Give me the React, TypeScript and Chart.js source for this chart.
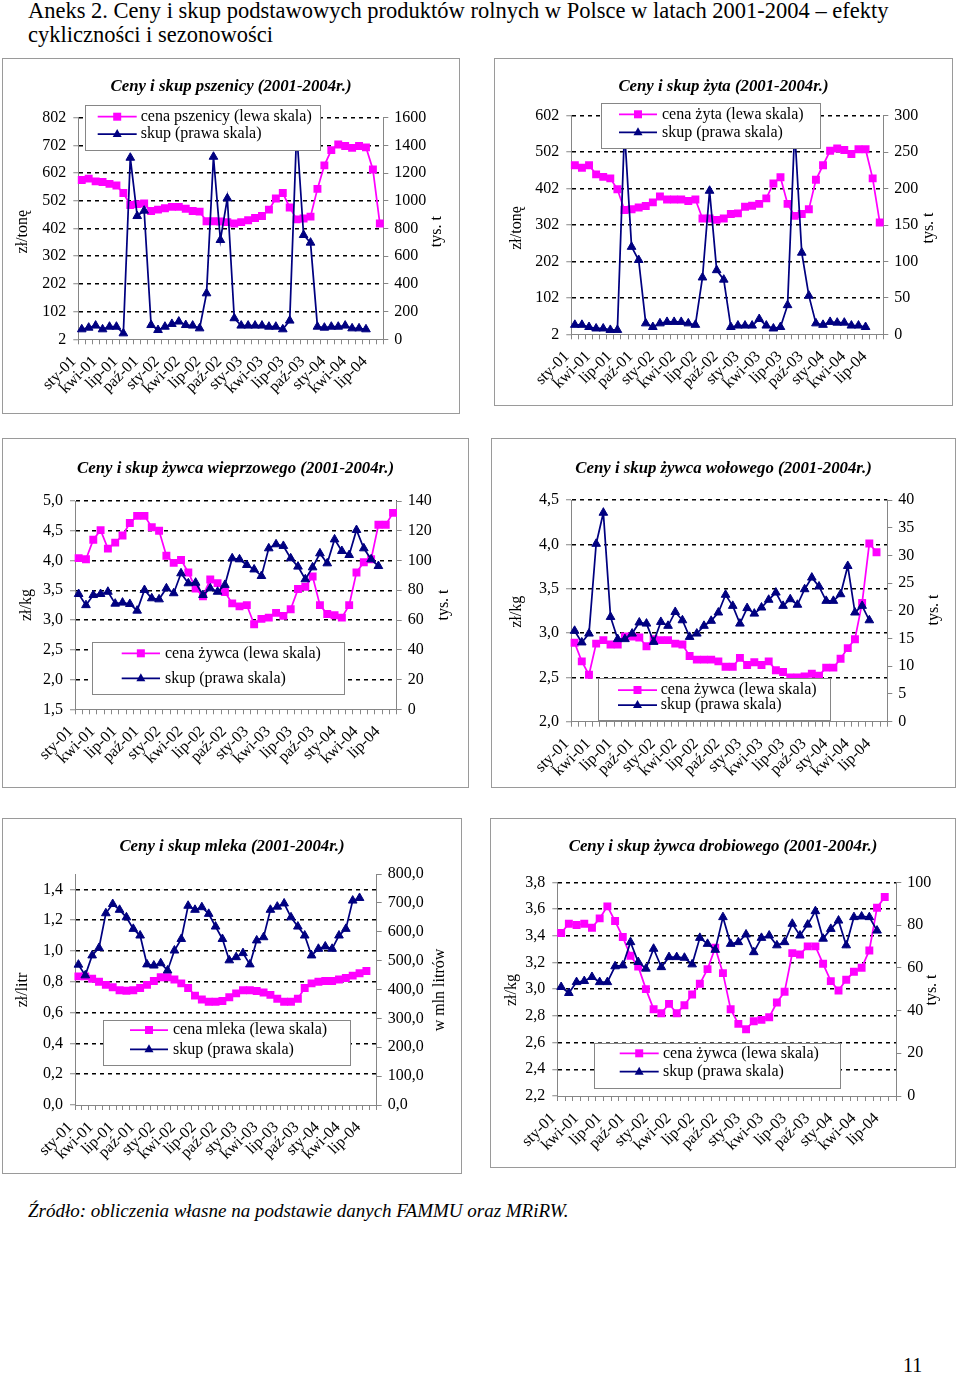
import React, { useEffect, useRef } from "react";
import { Chart, registerables } from "chart.js";

Chart.register(...registerables);

// ---------- categories (monthly, Jan 2001 - Aug 2004) ----------
const categories = [
  "sty-01", "lut-01", "mar-01", "kwi-01", "maj-01", "cze-01", "lip-01", "sie-01", "wrz-01", "paź-01", "lis-01", "gru-01",
  "sty-02", "lut-02", "mar-02", "kwi-02", "maj-02", "cze-02", "lip-02", "sie-02", "wrz-02", "paź-02", "lis-02", "gru-02",
  "sty-03", "lut-03", "mar-03", "kwi-03", "maj-03", "cze-03", "lip-03", "sie-03", "wrz-03", "paź-03", "lis-03", "gru-03",
  "sty-04", "lut-04", "mar-04", "kwi-04", "maj-04", "cze-04", "lip-04", "sie-04",
];

// ---------- data ----------
const wheatPrice = [577, 582, 572, 570, 563, 557, 530, 487, 490, 492, 465, 470, 475, 480, 480, 473, 465, 463, 428, 428, 427, 425, 420, 425, 432, 440, 447, 470, 510, 530, 478, 435, 438, 445, 545, 630, 685, 705, 700, 693, 700, 695, 615, 420];
const wheatSkup = [72, 84, 99, 72, 91, 91, 43, 1311, 890, 929, 103, 67, 91, 111, 128, 103, 99, 79, 332, 1318, 717, 1018, 152, 99, 99, 99, 99, 91, 91, 72, 135, 1500, 753, 698, 91, 84, 91, 91, 99, 79, 79, 72];

const ryePrice = [466, 459, 466, 441, 434, 430, 400, 343, 345, 350, 354, 364, 380, 372, 372, 372, 368, 372, 320, 320, 316, 320, 332, 334, 352, 355, 360, 375, 416, 433, 360, 327, 332, 345, 426, 466, 506, 512, 508, 497, 510, 510, 430, 309];
const ryeSkup = [13, 13, 10, 8, 8, 6, 6, 280, 120, 102, 15, 10, 15, 17, 17, 17, 15, 13, 78, 197, 88, 75, 10, 12, 12, 12, 21, 12, 8, 10, 40, 280, 112, 53, 15, 13, 17, 16, 16, 12, 12, 10];

const porkPrice = [4.04, 4.02, 4.35, 4.51, 4.2, 4.3, 4.42, 4.63, 4.75, 4.75, 4.56, 4.5, 4.08, 3.96, 4.01, 3.8, 3.53, 3.4, 3.68, 3.62, 3.47, 3.28, 3.23, 3.25, 2.93, 3.02, 3.04, 3.12, 3.07, 3.18, 3.52, 3.56, 3.73, 3.25, 3.1, 3.08, 3.04, 3.25, 3.8, 3.97, 4.02, 4.6, 4.6, 4.8];
const porkSkup = [77.5, 70, 76.8, 77.5, 79, 71, 71.7, 70.8, 66.3, 80.2, 74.6, 73.9, 81.3, 78, 91.4, 84.7, 85.1, 76.8, 81.3, 79, 83.6, 101.5, 100.8, 97, 94, 89.6, 108.2, 110.9, 109.8, 101.5, 95.9, 87.4, 95.4, 104.8, 98.1, 114.2, 106.4, 103.7, 120.5, 108.2, 100.8, 96.3];

const beefPrice = [2.89, 2.68, 2.53, 2.88, 2.92, 2.87, 2.87, 2.96, 2.96, 2.95, 2.85, 2.93, 2.92, 2.92, 2.88, 2.87, 2.74, 2.7, 2.7, 2.7, 2.68, 2.62, 2.62, 2.72, 2.64, 2.67, 2.64, 2.68, 2.58, 2.56, 2.5, 2.5, 2.51, 2.54, 2.52, 2.61, 2.61, 2.71, 2.83, 2.93, 3.34, 4.01, 3.91];
const beefSkup = [16.4, 14.3, 15.9, 32.1, 37.7, 18.9, 14.9, 14.9, 15.9, 17.9, 17.7, 14.4, 18.0, 17.3, 19.8, 18.3, 15.3, 15.9, 17.3, 18.2, 19.7, 22.9, 20.9, 17.7, 20.5, 19.5, 20.6, 22.0, 23.3, 20.9, 22.1, 21.1, 23.9, 26.0, 24.4, 21.8, 21.8, 23.0, 28.1, 19.7, 20.9, 18.3];

const milkPrice = [0.835, 0.835, 0.82, 0.8, 0.78, 0.765, 0.745, 0.742, 0.745, 0.76, 0.78, 0.805, 0.83, 0.83, 0.815, 0.79, 0.76, 0.71, 0.685, 0.67, 0.67, 0.675, 0.7, 0.725, 0.745, 0.745, 0.74, 0.73, 0.715, 0.69, 0.67, 0.67, 0.69, 0.76, 0.79, 0.8, 0.805, 0.805, 0.815, 0.825, 0.84, 0.855, 0.87];
const milkSkup = [486, 449, 518, 544, 664, 696, 676, 650, 610, 587, 487, 483, 491, 466, 535, 575, 690, 676, 685, 662, 618, 575, 501, 512, 526, 487, 570, 581, 676, 687, 698, 650, 618, 587, 518, 541, 549, 541, 587, 610, 708, 717];

const poultryPrice = [3.42, 3.49, 3.48, 3.49, 3.46, 3.53, 3.62, 3.51, 3.39, 3.25, 3.17, 3.0, 2.85, 2.82, 2.89, 2.82, 2.88, 2.96, 3.04, 3.15, 3.31, 3.12, 2.85, 2.74, 2.7, 2.76, 2.77, 2.79, 2.9, 2.98, 3.27, 3.26, 3.32, 3.32, 3.19, 3.06, 2.99, 3.07, 3.13, 3.16, 3.29, 3.61, 3.69];
const poultrySkup = [51, 48.2, 53.3, 53.8, 55.7, 53.3, 53.3, 60.7, 61.1, 72, 62.7, 59.6, 68.9, 60.3, 65, 65, 64.7, 61.6, 74, 71.2, 68.4, 83.7, 71.2, 72, 75.6, 67.3, 74, 75.1, 70.5, 72, 80.6, 75.1, 80.2, 86.5, 73.6, 78.2, 82.1, 70.5, 83.7, 84, 83.7, 77.4];

// ---------- styling ----------
const SERIF = '"Liberation Serif", "Times New Roman", serif';
const PINK = "#FF00FF";
const NAVY = "#000080";
const GRAY = "#868686";

const fmtComma1 = (v: number) => v.toFixed(1).replace(".", ",");
const fmtInt = (v: number) => String(Math.round(v));

type Axis = { min: number; max: number; step: number; fmt: (v: number) => string; includeBounds?: boolean };
type Panel = {
  box: [number, number, number, number]; // page x, y, w, h (outer)
  plot: [number, number, number, number]; // page left, top, right, bottom
  title: string;
  titleY: number;
  leftTitle: [string, number, number];
  rightTitle: [string, number, number];
  price: number[];
  skup: number[];
  priceLabel: string;
  left: Axis;
  right: Axis;
  legend: { x: number; y: number; w: number; h: number; l1: number; l2: number; tx: number; r1: number; r2: number };
};

const panels: Panel[] = [
  {
    box: [2, 58, 458, 356],
    plot: [78.3, 117.7, 383.3, 339.3],
    title: "Ceny i skup pszenicy (2001-2004r.)",
    titleY: 86.7,
    leftTitle: ["zł/tonę", 23, 231.7],
    rightTitle: ["tys. t", 437, 231.7],
    price: wheatPrice,
    skup: wheatSkup,
    priceLabel: "cena pszenicy (lewa skala)",
    left: { min: 2, max: 802, step: 100, fmt: fmtInt },
    right: { min: 0, max: 1600, step: 200, fmt: fmtInt },
    legend: { x: 85, y: 105, w: 235, h: 45, l1: 97.7, l2: 136.7, tx: 140.7, r1: 116.7, r2: 134 },
  },
  {
    box: [494, 58, 459, 348],
    plot: [571.3, 115.7, 883.3, 334.3],
    title: "Ceny i skup żyta (2001-2004r.)",
    titleY: 86.7,
    leftTitle: ["zł/tonę", 517, 228],
    rightTitle: ["tys. t", 929, 228],
    price: ryePrice,
    skup: ryeSkup,
    priceLabel: "cena żyta (lewa skala)",
    left: { min: 2, max: 602, step: 100, fmt: fmtInt },
    right: { min: 0, max: 300, step: 50, fmt: fmtInt },
    legend: { x: 601, y: 103, w: 219, h: 45, l1: 619, l2: 657, tx: 662, r1: 114.3, r2: 132.3 },
  },
  {
    box: [2, 438, 467, 350],
    plot: [75, 501, 396.7, 709.3],
    title: "Ceny i skup żywca wieprzowego (2001-2004r.)",
    titleY: 468.3,
    leftTitle: ["zł/kg", 26.7, 605],
    rightTitle: ["tys. t", 443.3, 605],
    price: porkPrice,
    skup: porkSkup,
    priceLabel: "cena żywca (lewa skala)",
    left: { min: 1.5, max: 5.0, step: 0.5, fmt: fmtComma1 },
    right: { min: 0, max: 140, step: 20, fmt: fmtInt },
    legend: { x: 92, y: 641.7, w: 252, h: 51.6, l1: 121.7, l2: 160, tx: 165, r1: 653.3, r2: 678.3 },
  },
  {
    box: [491, 438, 465, 350],
    plot: [571, 500, 887.3, 721.7],
    title: "Ceny i skup żywca wołowego (2001-2004r.)",
    titleY: 468.3,
    leftTitle: ["zł/kg", 517, 611.7],
    rightTitle: ["tys. t", 933.3, 610],
    price: beefPrice,
    skup: beefSkup,
    priceLabel: "cena żywca (lewa skala)",
    left: { min: 2.0, max: 4.5, step: 0.5, fmt: fmtComma1 },
    right: { min: 0, max: 40, step: 5, fmt: fmtInt },
    legend: { x: 598, y: 678, w: 232, h: 42, l1: 618, l2: 657, tx: 660.7, r1: 690, r2: 705 },
  },
  {
    box: [2, 818, 460, 356],
    plot: [75, 874, 376.7, 1105],
    title: "Ceny i skup mleka (2001-2004r.)",
    titleY: 846.7,
    leftTitle: ["zł/litr", 22.7, 990],
    rightTitle: ["w mln litrów", 440, 990],
    price: milkPrice,
    skup: milkSkup,
    priceLabel: "cena mleka (lewa skala)",
    left: { min: 0, max: 1.5, step: 0.2, fmt: fmtComma1, includeBounds: false },
    right: { min: 0, max: 800, step: 100, fmt: fmtComma1 },
    legend: { x: 103, y: 1020, w: 247, h: 45, l1: 130, l2: 168, tx: 173, r1: 1030, r2: 1049.3 },
  },
  {
    box: [490, 818, 466, 350],
    plot: [557.3, 882.3, 896.3, 1096],
    title: "Ceny i skup żywca drobiowego (2001-2004r.)",
    titleY: 846.7,
    leftTitle: ["zł/kg", 511.3, 990],
    rightTitle: ["tys. t", 931.3, 990],
    price: poultryPrice,
    skup: poultrySkup,
    priceLabel: "cena żywca (lewa skala)",
    left: { min: 2.2, max: 3.8, step: 0.2, fmt: fmtComma1 },
    right: { min: 0, max: 100, step: 10, fmt: fmtInt },
    legend: { x: 594, y: 1042.7, w: 246, h: 45, l1: 619.7, l2: 658.7, tx: 663, r1: 1053.3, r2: 1071.7 },
  },
];

// ---------- overlay plugin: axis titles + legend box ----------
const overlayPlugin = {
  id: "overlay",
  afterDraw(chart: any, _args: any, opts: any) {
    const ctx: CanvasRenderingContext2D = chart.ctx;
    ctx.save();
    ctx.font = `16px ${SERIF}`;
    ctx.fillStyle = "#000";
    ctx.textAlign = "center";
    ctx.textBaseline = "middle";
    for (const t of opts.axisTitles) {
      ctx.save();
      ctx.translate(t.x, t.y);
      ctx.rotate(-Math.PI / 2);
      ctx.fillText(t.text, 0, 0);
      ctx.restore();
    }
    const L = opts.legend;
    ctx.fillStyle = "#fff";
    ctx.fillRect(L.x, L.y, L.w, L.h);
    ctx.strokeStyle = GRAY;
    ctx.lineWidth = 1;
    ctx.strokeRect(Math.round(L.x) + 0.5, Math.round(L.y) + 0.5, Math.round(L.w), Math.round(L.h));
    const rows = [
      { y: L.r1, color: PINK, text: L.t1, marker: "rect" },
      { y: L.r2, color: NAVY, text: L.t2, marker: "tri" },
    ];
    for (const r of rows) {
      ctx.strokeStyle = r.color;
      ctx.lineWidth = 1.75;
      ctx.beginPath();
      ctx.moveTo(L.l1, r.y);
      ctx.lineTo(L.l2, r.y);
      ctx.stroke();
      const cx = (L.l1 + L.l2) / 2;
      ctx.fillStyle = r.color;
      if (r.marker === "rect") {
        ctx.fillRect(cx - 4, r.y - 4, 8, 8);
      } else {
        ctx.beginPath();
        ctx.moveTo(cx, r.y - 5);
        ctx.lineTo(cx + 4.5, r.y + 3);
        ctx.lineTo(cx - 4.5, r.y + 3);
        ctx.closePath();
        ctx.fill();
      }
      ctx.fillStyle = "#000";
      ctx.textAlign = "left";
      ctx.fillText(r.text, L.tx, r.y);
    }
    ctx.restore();
  },
};

function buildConfig(p: Panel): any {
  const [bx, by, bw, bh] = p.box;
  const ox = bx + 1;
  const oy = by + 1;
  const W = bw - 2;
  const H = bh - 2;
  const L = p.plot[0] - ox;
  const T = p.plot[1] - oy;
  const R = p.plot[2] - ox;
  const B = p.plot[3] - oy;
  const ty = p.titleY - oy;
  const titleSize = 16.8;
  const lh = titleSize * 1.2;
  const tickFont = { family: SERIF, size: 16 };
  const leftMin = p.left.min;

  return {
    type: "line",
    data: {
      labels: categories,
      datasets: [
        {
          label: p.priceLabel,
          data: p.price,
          yAxisID: "y",
          borderColor: PINK,
          backgroundColor: PINK,
          pointStyle: "rect",
          pointRadius: 5.6,
          pointBorderWidth: 0,
          borderWidth: 1.75,
          tension: 0,
          order: 1,
        },
        {
          label: "skup (prawa skala)",
          data: p.skup,
          yAxisID: "y1",
          borderColor: NAVY,
          backgroundColor: NAVY,
          pointStyle: "triangle",
          pointRadius: 5,
          pointBorderWidth: 1,
          borderWidth: 1.75,
          tension: 0,
          order: 0,
        },
      ],
    },
    options: {
      responsive: false,
      animation: false,
      events: [],
      layout: { padding: 0 },
      plugins: {
        legend: { display: false },
        tooltip: { enabled: false },
        title: {
          display: true,
          text: p.title,
          color: "#000",
          font: { family: SERIF, size: titleSize, weight: "bold", style: "italic", lineHeight: 1.2 },
          padding: { top: ty - lh / 2, bottom: T - ty - lh / 2 },
        },
        overlay: {
          axisTitles: [
            { text: p.leftTitle[0], x: p.leftTitle[1] - ox, y: p.leftTitle[2] - oy },
            { text: p.rightTitle[0], x: p.rightTitle[1] - ox, y: p.rightTitle[2] - oy },
          ],
          legend: {
            x: p.legend.x - ox,
            y: p.legend.y - oy,
            w: p.legend.w,
            h: p.legend.h,
            l1: p.legend.l1 - ox,
            l2: p.legend.l2 - ox,
            tx: p.legend.tx - ox,
            r1: p.legend.r1 - oy,
            r2: p.legend.r2 - oy,
            t1: p.priceLabel,
            t2: "skup (prawa skala)",
          },
        },
      },
      scales: {
        x: {
          type: "category",
          offset: true,
          grid: {
            offset: true,
            drawOnChartArea: false,
            drawTicks: true,
            tickLength: 5,
            tickColor: GRAY,
            color: GRAY,
          },
          border: { color: GRAY, width: 1 },
          ticks: {
            autoSkip: false,
            maxRotation: 45,
            minRotation: 45,
            padding: 8,
            labelOffset: -8,
            color: "#000",
            font: tickFont,
            callback: (_v: any, i: number) => (i % 3 === 0 ? categories[i] : ""),
          },
          afterFit: (s: any) => {
            s.height = H - B;
          },
        },
        y: {
          type: "linear",
          position: "left",
          min: p.left.min,
          max: p.left.max,
          ticks: {
            stepSize: p.left.step,
            includeBounds: p.left.includeBounds !== false,
            padding: 7,
            color: "#000",
            font: tickFont,
            callback: (v: any) => p.left.fmt(Number(v)),
          },
          grid: {
            color: (c: any) =>
              c.tick && Math.abs(c.tick.value - leftMin) < 1e-9 ? "rgba(0,0,0,0)" : "#000",
            lineWidth: 1.5,
            tickColor: GRAY,
            tickWidth: 1,
            tickLength: 5,
          },
          border: { color: GRAY, width: 1, dash: [4, 4] },
          afterFit: (s: any) => {
            s.width = L;
          },
        },
        y1: {
          type: "linear",
          position: "right",
          min: p.right.min,
          max: p.right.max,
          ticks: {
            stepSize: p.right.step,
            padding: 6,
            color: "#000",
            font: tickFont,
            callback: (v: any) => p.right.fmt(Number(v)),
          },
          grid: {
            drawOnChartArea: false,
            color: GRAY,
            tickColor: GRAY,
            tickWidth: 1,
            tickLength: 5,
          },
          border: { color: GRAY, width: 1 },
          afterFit: (s: any) => {
            s.width = W - R;
          },
        },
      },
    },
    plugins: [overlayPlugin],
  };
}

function ChartPanel({ panel }: { panel: Panel }) {
  const ref = useRef<HTMLCanvasElement | null>(null);
  const [bx, by, bw, bh] = panel.box;
  const W = bw - 2;
  const H = bh - 2;
  useEffect(() => {
    if (!ref.current) return;
    const chart = new Chart(ref.current, buildConfig(panel));
    return () => chart.destroy();
  }, [panel]);
  return (
    <div
      style={{
        position: "absolute",
        left: bx,
        top: by,
        width: W,
        height: H,
        border: "1px solid #9a9a9a",
        background: "#fff",
      }}
    >
      <canvas ref={ref} width={W} height={H} style={{ display: "block", width: W, height: H }} />
    </div>
  );
}

export default function App() {
  return (
    <div
      style={{
        position: "absolute",
        left: 0,
        top: 0,
        width: 960,
        height: 1375,
        overflow: "hidden",
        background: "#fff",
        fontFamily: SERIF,
        color: "#000",
      }}
    >
      <div style={{ position: "absolute", left: 28, top: -1, fontSize: 22.5, lineHeight: "24px", whiteSpace: "nowrap" }}>
        Aneks 2. Ceny i skup podstawowych produktów rolnych w Polsce w latach 2001-2004 – efekty
        <br />
        cykliczności i sezonowości
      </div>
      {panels.map((p, i) => (
        <ChartPanel key={i} panel={p} />
      ))}
      <div style={{ position: "absolute", left: 28, top: 1200, fontSize: 19, lineHeight: "22px", fontStyle: "italic", whiteSpace: "nowrap" }}>
        Źródło: obliczenia własne na podstawie danych FAMMU oraz MRiRW.
      </div>
      <div style={{ position: "absolute", left: 903, top: 1354, fontSize: 20, lineHeight: "22px" }}>11</div>
    </div>
  );
}
